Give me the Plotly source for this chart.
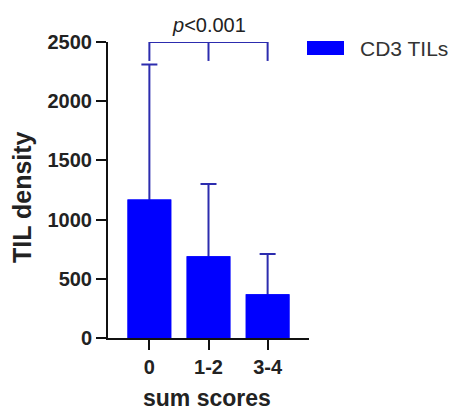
import plotly.graph_objects as go

# Mean CD3 TIL density per sum-score group, with SD
categories = ["0", "1-2", "3-4"]
mean_density = [1170, 690, 370]
sd_density = [1140, 610, 340]
y_ticks = [0, 500, 1000, 1500, 2000, 2500]

# Significance bracket spanning all groups
bracket_groups = [0, 1, 2]
bracket_top = 2500
bracket_leg_end = 2340
p_label = "<i>p</i>&lt;0.001"

W, H = 454, 410
L, R, T, B = 108, 309, 42, 338  # plot area in px


def px_x(px):
    return (px - L) / (R - L)


def px_y(py):
    return (B - py) / (B - T)


FONT = "Liberation Sans, Arial, sans-serif"
BAR_BLUE = "#0000FF"
LINE_BLUE = "#2c2cae"

fig = go.Figure()
# bars with SD whiskers; the lower whisker is hidden by the solid bar drawn on top
fig.add_trace(go.Bar(
    x=categories, y=mean_density, width=0.74,
    marker=dict(color=BAR_BLUE, line=dict(width=0)),
    error_y=dict(type="data", array=sd_density, color=LINE_BLUE,
                 thickness=2, width=8),
    showlegend=False,
))
fig.add_trace(go.Bar(
    x=categories, y=mean_density, width=0.74,
    marker=dict(color=BAR_BLUE, line=dict(width=0)),
    showlegend=False, hoverinfo="skip",
))

shapes = []
# bracket horizontal line and legs
shapes.append(dict(type="line", xref="x", yref="y",
                   x0=bracket_groups[0], x1=bracket_groups[-1],
                   y0=bracket_top, y1=bracket_top,
                   line=dict(color=LINE_BLUE, width=2)))
for g in bracket_groups:
    shapes.append(dict(type="line", xref="x", yref="y", x0=g, x1=g,
                       y0=bracket_top, y1=bracket_leg_end,
                       line=dict(color=LINE_BLUE, width=2)))
# legend swatch
shapes.append(dict(type="rect", xref="paper", yref="paper",
                   x0=px_x(307), x1=px_x(344), y0=px_y(55), y1=px_y(41),
                   fillcolor=BAR_BLUE, line=dict(width=0)))

annotations = [
    dict(text=p_label, x=1, xref="x", y=px_y(25), yref="paper",
         showarrow=False, xanchor="center", yanchor="middle",
         font=dict(family=FONT, size=20, color="#222")),
    dict(text="CD3 TILs", x=px_x(358), xref="paper", y=px_y(48), yref="paper",
         showarrow=False, xanchor="left", yanchor="middle",
         font=dict(family=FONT, size=21, color="#333")),
    dict(text="<b>TIL density</b>", x=px_x(22), xref="paper", y=px_y(197),
         yref="paper", showarrow=False, textangle=-90,
         xanchor="center", yanchor="middle",
         font=dict(family=FONT, size=25, color="#222")),
    dict(text="<b>sum scores</b>", x=px_x(207), xref="paper", y=px_y(398),
         yref="paper", showarrow=False, xanchor="center", yanchor="middle",
         font=dict(family=FONT, size=23, color="#222")),
]

fig.update_layout(
    width=W, height=H,
    barmode="overlay",
    margin=dict(l=L, r=W - R, t=T, b=H - B, pad=0),
    paper_bgcolor="white", plot_bgcolor="white",
    font=dict(family=FONT, color="#222"),
    shapes=shapes,
    annotations=annotations,
    xaxis=dict(
        type="category", range=[-0.7, 2.7],
        showline=True, linecolor="#111", linewidth=2,
        ticks="outside", ticklen=10, tickwidth=2, tickcolor="#111",
        tickfont=dict(family=FONT, size=20, color="#222", weight="bold"),
        showgrid=False, zeroline=False, fixedrange=True,
    ),
    yaxis=dict(
        range=[0, 2500], tickvals=y_ticks,
        showline=True, linecolor="#111", linewidth=2,
        ticks="outside", ticklen=10, tickwidth=2, tickcolor="#111",
        tickfont=dict(family=FONT, size=20, color="#222", weight="bold"),
        showgrid=False, zeroline=False, fixedrange=True,
    ),
)

fig.write_html("out.html")
